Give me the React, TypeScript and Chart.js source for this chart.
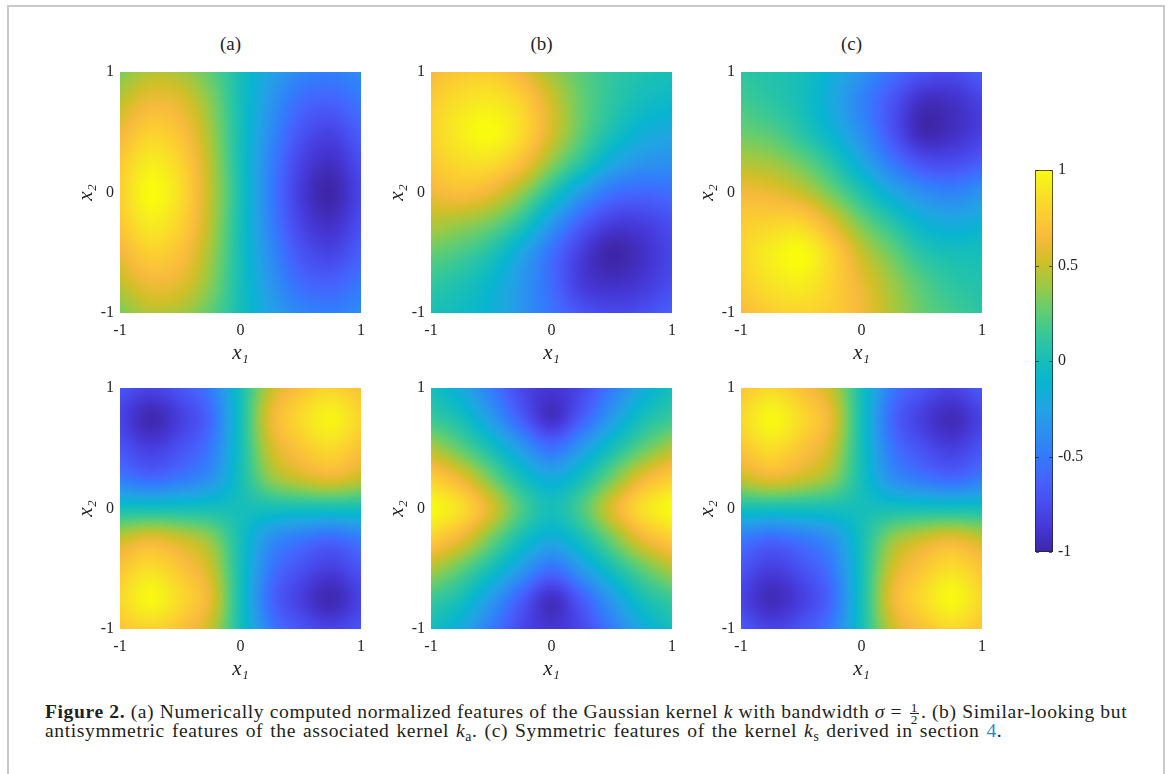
import React, { useEffect, useRef } from 'react';
import { Chart, registerables } from 'chart.js';

Chart.register(...registerables);

// ---------------- data ----------------
// grid nodes: columns x1 = -1 .. 1, rows x2 = 1 .. -1 (top to bottom)
const X1_NODES = [-1, -0.75, -0.5, -0.25, 0, 0.25, 0.5, 0.75, 1];
const X2_NODES = [1, 0.75, 0.5, 0.25, 0, -0.25, -0.5, -0.75, -1];
const AXIS_TICKS = [-1, 0, 1];
const COLORBAR_TICKS = [-1, -0.5, 0, 0.5, 1];
const COLUMN_TITLES = ['(a)', '(b)', '(c)'];

const GAUSS_TOP = [
  [0.32, 0.45, 0.42, 0.25, 0.0, -0.25, -0.42, -0.47, -0.40],
  [0.48, 0.62, 0.58, 0.35, 0.0, -0.33, -0.58, -0.63, -0.52],
  [0.62, 0.78, 0.70, 0.41, 0.0, -0.40, -0.70, -0.80, -0.64],
  [0.74, 0.92, 0.80, 0.46, 0.0, -0.46, -0.80, -0.92, -0.74],
  [0.78, 1.00, 0.85, 0.48, 0.02, -0.48, -0.85, -1.00, -0.78],
  [0.74, 0.92, 0.80, 0.46, 0.0, -0.46, -0.80, -0.92, -0.74],
  [0.62, 0.78, 0.70, 0.41, 0.0, -0.40, -0.70, -0.80, -0.64],
  [0.48, 0.62, 0.58, 0.35, 0.0, -0.33, -0.58, -0.63, -0.52],
  [0.32, 0.45, 0.42, 0.25, 0.0, -0.25, -0.42, -0.47, -0.40],
];

const ANTI_TOP = [
  [0.65, 0.74, 0.75, 0.62, 0.40, 0.24, 0.12, 0.05, 0.0],
  [0.76, 0.87, 0.91, 0.79, 0.53, 0.27, 0.10, -0.02, -0.08],
  [0.79, 0.93, 1.00, 0.84, 0.54, 0.25, 0.02, -0.15, -0.22],
  [0.74, 0.84, 0.85, 0.68, 0.37, 0.08, -0.20, -0.34, -0.37],
  [0.62, 0.68, 0.60, 0.38, 0.05, -0.30, -0.54, -0.60, -0.56],
  [0.46, 0.40, 0.30, 0.08, -0.30, -0.64, -0.83, -0.83, -0.73],
  [0.27, 0.19, 0.05, -0.22, -0.55, -0.84, -1.00, -0.92, -0.78],
  [0.12, 0.04, -0.10, -0.32, -0.58, -0.85, -0.92, -0.87, -0.75],
  [0.02, -0.05, -0.15, -0.34, -0.53, -0.70, -0.77, -0.74, -0.64],
];

const SYM_TOP = [
  [0.10, 0.05, 0.0, -0.15, -0.35, -0.55, -0.70, -0.75, -0.65],
  [0.18, 0.10, 0.0, -0.20, -0.45, -0.70, -0.93, -0.92, -0.80],
  [0.28, 0.22, 0.08, -0.12, -0.38, -0.70, -0.97, -0.93, -0.82],
  [0.45, 0.40, 0.28, 0.08, -0.20, -0.50, -0.72, -0.75, -0.65],
  [0.64, 0.60, 0.50, 0.30, 0.05, -0.20, -0.38, -0.45, -0.35],
  [0.76, 0.80, 0.80, 0.58, 0.30, 0.08, -0.12, -0.20, -0.15],
  [0.80, 0.93, 1.00, 0.80, 0.50, 0.28, 0.08, 0.0, 0.0],
  [0.76, 0.88, 0.93, 0.80, 0.60, 0.40, 0.22, 0.10, 0.05],
  [0.65, 0.76, 0.80, 0.76, 0.64, 0.45, 0.28, 0.18, 0.10],
];

const GAUSS_BOTTOM = [
  [-0.70, -0.80, -0.70, -0.49, 0.0, 0.49, 0.70, 0.80, 0.70],
  [-0.80, -0.97, -0.83, -0.59, 0.0, 0.59, 0.83, 0.96, 0.80],
  [-0.70, -0.83, -0.72, -0.51, 0.0, 0.51, 0.72, 0.83, 0.70],
  [-0.49, -0.59, -0.51, -0.36, 0.0, 0.36, 0.51, 0.59, 0.49],
  [0.0, 0.0, 0.0, 0.0, 0.0, 0.0, 0.0, 0.0, 0.0],
  [0.49, 0.59, 0.51, 0.36, 0.0, -0.36, -0.51, -0.59, -0.49],
  [0.72, 0.85, 0.72, 0.51, 0.0, -0.51, -0.72, -0.83, -0.70],
  [0.82, 0.98, 0.83, 0.59, 0.0, -0.59, -0.83, -0.97, -0.80],
  [0.72, 0.80, 0.70, 0.49, 0.0, -0.49, -0.70, -0.80, -0.70],
];

const ANTI_BOTTOM = [
  [0.0, -0.20, -0.50, -0.78, -0.88, -0.78, -0.50, -0.20, 0.0],
  [0.15, 0.0, -0.30, -0.65, -0.92, -0.65, -0.30, 0.0, 0.15],
  [0.45, 0.25, 0.0, -0.30, -0.55, -0.30, 0.0, 0.25, 0.45],
  [0.78, 0.60, 0.30, 0.0, -0.18, 0.0, 0.30, 0.60, 0.78],
  [1.00, 0.85, 0.55, 0.20, 0.0, 0.20, 0.55, 0.85, 1.00],
  [0.78, 0.60, 0.30, 0.0, -0.18, 0.0, 0.30, 0.60, 0.78],
  [0.45, 0.25, 0.0, -0.30, -0.55, -0.30, 0.0, 0.25, 0.45],
  [0.15, 0.0, -0.30, -0.65, -0.92, -0.65, -0.30, 0.0, 0.15],
  [0.0, -0.20, -0.50, -0.78, -0.88, -0.78, -0.50, -0.20, 0.0],
];

const SYM_BOTTOM = [
  [0.72, 0.82, 0.70, 0.49, 0.0, -0.49, -0.70, -0.80, -0.67],
  [0.82, 0.98, 0.83, 0.59, 0.0, -0.59, -0.83, -0.95, -0.80],
  [0.72, 0.85, 0.72, 0.51, 0.0, -0.51, -0.72, -0.83, -0.70],
  [0.49, 0.59, 0.51, 0.36, 0.0, -0.36, -0.51, -0.59, -0.49],
  [0.0, 0.0, 0.0, 0.0, 0.0, 0.0, 0.0, 0.0, 0.0],
  [-0.49, -0.59, -0.51, -0.36, 0.0, 0.36, 0.51, 0.59, 0.49],
  [-0.70, -0.83, -0.72, -0.51, 0.0, 0.51, 0.72, 0.85, 0.72],
  [-0.80, -0.95, -0.83, -0.59, 0.0, 0.59, 0.83, 0.98, 0.82],
  [-0.67, -0.80, -0.70, -0.49, 0.0, 0.49, 0.70, 0.82, 0.72],
];

// ---------------- styles ----------------
const SERIF = '"Liberation Serif", "Times New Roman", "DejaVu Serif", serif';
const AXIS_COLOR = '#262626';

// parula colormap stops (MATLAB), every 4th of the 64-entry table
const PARULA_STOPS: [number, number, number, number][] = [
  [0, 62, 38, 168], [4, 69, 55, 213], [8, 72, 77, 240], [12, 69, 99, 253],
  [16, 50, 124, 252], [20, 43, 145, 239], [24, 32, 165, 227], [28, 8, 181, 208],
  [32, 25, 191, 182], [36, 55, 200, 151], [40, 100, 205, 111], [44, 157, 201, 67],
  [48, 209, 191, 39], [52, 248, 186, 61], [56, 252, 207, 48], [60, 247, 232, 34],
  [63, 249, 251, 14],
];

function parulaRGB(v: number): [number, number, number] {
  const t = Math.max(0, Math.min(1, (v + 1) / 2)) * 63;
  for (let i = 0; i < PARULA_STOPS.length - 1; i++) {
    const a = PARULA_STOPS[i];
    const b = PARULA_STOPS[i + 1];
    if (t <= b[0]) {
      const f = (t - a[0]) / (b[0] - a[0]);
      return [
        Math.round(a[1] + (b[1] - a[1]) * f),
        Math.round(a[2] + (b[2] - a[2]) * f),
        Math.round(a[3] + (b[3] - a[3]) * f),
      ];
    }
  }
  const l = PARULA_STOPS[PARULA_STOPS.length - 1];
  return [l[1], l[2], l[3]];
}

function cubic(p0: number, p1: number, p2: number, p3: number, t: number) {
  return p1 + 0.5 * t * (p2 - p0 + t * (2 * p0 - 5 * p1 + 4 * p2 - p3 + t * (3 * (p1 - p2) + p3 - p0)));
}

function cellAt(grid: number[][], r: number, c: number): number {
  const ny = grid.length;
  const nx = grid[0].length;
  if (r < 0) return 2 * cellAt(grid, 0, c) - cellAt(grid, 1, c);
  if (r >= ny) return 2 * cellAt(grid, ny - 1, c) - cellAt(grid, ny - 2, c);
  if (c < 0) return 2 * grid[r][0] - grid[r][1];
  if (c >= nx) return 2 * grid[r][nx - 1] - grid[r][nx - 2];
  return grid[r][c];
}

// smooth (shading-interp style) rendering of the gridded field
function sampleField(grid: number[][], fx: number, fy: number) {
  const ny = grid.length;
  const nx = grid[0].length;
  fx = Math.max(0, Math.min(nx - 1, fx));
  fy = Math.max(0, Math.min(ny - 1, fy));
  const ix = Math.min(Math.floor(fx), nx - 2);
  const iy = Math.min(Math.floor(fy), ny - 2);
  const tx = fx - ix;
  const ty = fy - iy;
  const rows: number[] = [];
  for (let k = -1; k <= 2; k++) {
    const r = iy + k;
    rows.push(cubic(cellAt(grid, r, ix - 1), cellAt(grid, r, ix), cellAt(grid, r, ix + 1), cellAt(grid, r, ix + 2), tx));
  }
  return Math.max(-1, Math.min(1, cubic(rows[0], rows[1], rows[2], rows[3], ty)));
}

const heatmapPlugin = {
  id: 'heatmapField',
  beforeDatasetsDraw(chart: any) {
    const pts = chart.data.datasets[0].data as { x: number; y: number; v: number }[];
    const xs = Array.from(new Set(pts.map((p) => p.x))).sort((a, b) => a - b);
    const ys = Array.from(new Set(pts.map((p) => p.y))).sort((a, b) => a - b);
    const grid = ys.map(() => xs.map(() => 0));
    pts.forEach((p) => {
      grid[ys.indexOf(p.y)][xs.indexOf(p.x)] = p.v;
    });
    const { left, top, right, bottom } = chart.chartArea;
    const w = Math.round(right - left);
    const h = Math.round(bottom - top);
    const off = document.createElement('canvas');
    off.width = w;
    off.height = h;
    const octx = off.getContext('2d')!;
    const img = octx.createImageData(w, h);
    const xScale = chart.scales.x;
    const yScale = chart.scales.y;
    const x0 = xs[0], xN = xs[xs.length - 1], y0 = ys[0], yN = ys[ys.length - 1];
    for (let py = 0; py < h; py++) {
      const yv = yScale.getValueForPixel(top + py + 0.5);
      const fy = ((yv - y0) / (yN - y0)) * (ys.length - 1);
      for (let px = 0; px < w; px++) {
        const xv = xScale.getValueForPixel(left + px + 0.5);
        const fx = ((xv - x0) / (xN - x0)) * (xs.length - 1);
        const [r, g, b] = parulaRGB(sampleField(grid, fx, fy));
        const i = (py * w + px) * 4;
        img.data[i] = r;
        img.data[i + 1] = g;
        img.data[i + 2] = b;
        img.data[i + 3] = 255;
      }
    }
    octx.putImageData(img, 0, 0);
    chart.ctx.drawImage(off, left, top);
  },
};

const colorbarPlugin = {
  id: 'colorbarFill',
  beforeDatasetsDraw(chart: any) {
    const { left, top, right, bottom } = chart.chartArea;
    const ctx = chart.ctx;
    const yScale = chart.scales.y;
    for (let py = Math.floor(top); py < Math.ceil(bottom); py++) {
      const [r, g, b] = parulaRGB(yScale.getValueForPixel(py + 0.5));
      ctx.fillStyle = `rgb(${r},${g},${b})`;
      ctx.fillRect(left, py, right - left, 1);
    }
  },
  afterDraw(chart: any) {
    const { left, top, right, bottom } = chart.chartArea;
    const ctx = chart.ctx;
    const yScale = chart.scales.y;
    ctx.save();
    ctx.strokeStyle = 'rgba(38,38,38,0.75)';
    ctx.lineWidth = 1;
    ctx.strokeRect(left + 0.5, top + 0.5, right - left - 1, bottom - top - 1);
    COLORBAR_TICKS.forEach((t) => {
      const y = Math.round(yScale.getPixelForValue(t)) + 0.5;
      ctx.beginPath();
      ctx.moveTo(right - 1, y);
      ctx.lineTo(right - 4, y);
      ctx.moveTo(left + 1, y);
      ctx.lineTo(left + 4, y);
      ctx.stroke();
    });
    ctx.restore();
  },
};

// ---------------- layout ----------------
const PLOT_SIZE = 241;
const PANEL_LEFTS = [120, 431, 741];
const PANEL_TOPS = [72, 388];
const Y_AXIS_W = 60;
const X_AXIS_H = 55;
const PAD_TOP = 12;
const PAD_RIGHT = 20;
const CANVAS_W = Y_AXIS_W + PLOT_SIZE + PAD_RIGHT;
const CANVAS_H = PAD_TOP + PLOT_SIZE + X_AXIS_H;

const CB_LEFT = 1035;
const CB_TOP = 170;
const CB_W = 18;
const CB_H = 382;
const CB_AXIS_W = 50;

const PANELS = [
  { values: GAUSS_TOP, col: 0, row: 0 },
  { values: ANTI_TOP, col: 1, row: 0 },
  { values: SYM_TOP, col: 2, row: 0 },
  { values: GAUSS_BOTTOM, col: 0, row: 1 },
  { values: ANTI_BOTTOM, col: 1, row: 1 },
  { values: SYM_BOTTOM, col: 2, row: 1 },
];

function makePanel(canvas: HTMLCanvasElement, values: number[][]) {
  const points: { x: number; y: number; v: number }[] = [];
  X2_NODES.forEach((x2, r) => {
    X1_NODES.forEach((x1, c) => points.push({ x: x1, y: x2, v: values[r][c] }));
  });
  const tickFont = { family: SERIF, size: 16 };
  const titleFont = { family: SERIF, size: 21, style: 'italic' as const };
  return new Chart(canvas, {
    type: 'scatter',
    data: { datasets: [{ data: points as any, pointRadius: 0, pointHoverRadius: 0, showLine: false }] },
    options: {
      animation: false,
      responsive: false,
      maintainAspectRatio: false,
      events: [],
      layout: { padding: { top: PAD_TOP, right: PAD_RIGHT, left: 0, bottom: 0 } },
      plugins: { legend: { display: false }, tooltip: { enabled: false }, title: { display: false } },
      scales: {
        x: {
          type: 'linear',
          min: -1,
          max: 1,
          position: 'bottom',
          afterBuildTicks: (s: any) => {
            s.ticks = AXIS_TICKS.map((value) => ({ value }));
          },
          afterFit: (s: any) => {
            s.height = X_AXIS_H;
            s.paddingLeft = 0;
            s.paddingRight = 0;
          },
          grid: { display: false, drawTicks: false },
          border: { display: false },
          ticks: { padding: 8, font: tickFont, color: AXIS_COLOR, maxRotation: 0, autoSkip: false, callback: (v: any) => String(v) },
          title: { display: true, text: 'x₁', font: titleFont, color: AXIS_COLOR, padding: { top: 0, bottom: 2 } },
        },
        y: {
          type: 'linear',
          min: -1,
          max: 1,
          position: 'left',
          afterBuildTicks: (s: any) => {
            s.ticks = AXIS_TICKS.map((value) => ({ value }));
          },
          afterFit: (s: any) => {
            s.width = Y_AXIS_W;
            s.paddingTop = 0;
            s.paddingBottom = 0;
          },
          grid: { display: false, drawTicks: false },
          border: { display: false },
          ticks: { padding: 6, font: tickFont, color: AXIS_COLOR, autoSkip: false, callback: (v: any) => String(v) },
          title: { display: true, text: 'x₂', font: titleFont, color: AXIS_COLOR, padding: { top: 14, bottom: 0 } },
        },
      },
    } as any,
    plugins: [heatmapPlugin],
  });
}

function makeColorbar(canvas: HTMLCanvasElement) {
  return new Chart(canvas, {
    type: 'scatter',
    data: { datasets: [{ data: COLORBAR_TICKS.map((t) => ({ x: 0, y: t })), pointRadius: 0, pointHoverRadius: 0 }] },
    options: {
      animation: false,
      responsive: false,
      maintainAspectRatio: false,
      events: [],
      layout: { padding: { top: 10, bottom: 12, left: 0, right: 0 } },
      plugins: { legend: { display: false }, tooltip: { enabled: false } },
      scales: {
        x: { type: 'linear', display: false, min: 0, max: 1 },
        y: {
          type: 'linear',
          position: 'right',
          min: -1,
          max: 1,
          afterBuildTicks: (s: any) => {
            s.ticks = COLORBAR_TICKS.map((value) => ({ value }));
          },
          afterFit: (s: any) => {
            s.width = CB_AXIS_W;
            s.paddingTop = 0;
            s.paddingBottom = 0;
          },
          grid: { display: false, drawTicks: false },
          border: { display: false },
          ticks: { padding: 5, font: { family: SERIF, size: 16 }, color: AXIS_COLOR, autoSkip: false, callback: (v: any) => String(v) },
        },
      },
    } as any,
    plugins: [colorbarPlugin],
  });
}

function Frac() {
  return (
    <span
      style={{
        display: 'inline-flex',
        flexDirection: 'column',
        alignItems: 'center',
        verticalAlign: '6px',
        fontSize: '0.68em',
        lineHeight: '11px',
        margin: '0 2px',
      }}
    >
      <span style={{ borderBottom: '1px solid #231f20', padding: '0 1px' }}>1</span>
      <span>2</span>
    </span>
  );
}

const subStyle: React.CSSProperties = { fontSize: '0.7em', verticalAlign: '-0.28em', lineHeight: 0 };
const lineStyle: React.CSSProperties = { height: 19, lineHeight: '19px' };

export default function App() {
  const panelRefs = useRef<(HTMLCanvasElement | null)[]>([]);
  const barRef = useRef<HTMLCanvasElement | null>(null);

  useEffect(() => {
    const charts: Chart[] = [];
    PANELS.forEach((p, i) => {
      const c = panelRefs.current[i];
      if (c) charts.push(makePanel(c, p.values));
    });
    if (barRef.current) charts.push(makeColorbar(barRef.current));
    return () => charts.forEach((c) => c.destroy());
  }, []);

  return (
    <div style={{ position: 'absolute', left: 0, top: 0, width: 1170, height: 774, overflow: 'hidden', background: '#fff' }}>
      <div
        style={{
          position: 'absolute',
          left: 7,
          top: 5,
          width: 1158,
          height: 820,
          boxSizing: 'border-box',
          border: '2px solid #c9c9c9',
        }}
      />
      {COLUMN_TITLES.map((t, i) => (
        <div
          key={t}
          style={{
            position: 'absolute',
            left: PANEL_LEFTS[i] + PLOT_SIZE / 2 - 10 - 40,
            top: 33,
            width: 80,
            textAlign: 'center',
            fontFamily: SERIF,
            fontSize: 19,
            lineHeight: '22px',
            color: AXIS_COLOR,
          }}
        >
          {t}
        </div>
      ))}
      {PANELS.map((p, i) => (
        <canvas
          key={i}
          ref={(el) => {
            panelRefs.current[i] = el;
          }}
          width={CANVAS_W}
          height={CANVAS_H}
          style={{
            position: 'absolute',
            left: PANEL_LEFTS[p.col] - Y_AXIS_W,
            top: PANEL_TOPS[p.row] - PAD_TOP,
            width: CANVAS_W,
            height: CANVAS_H,
          }}
        />
      ))}
      <canvas
        ref={barRef}
        width={CB_W + CB_AXIS_W}
        height={CB_H + 22}
        style={{ position: 'absolute', left: CB_LEFT, top: CB_TOP - 10, width: CB_W + CB_AXIS_W, height: CB_H + 22 }}
      />
      <div
        style={{
          position: 'absolute',
          left: 45,
          top: 702,
          whiteSpace: 'nowrap',
          fontFamily: SERIF,
          fontSize: 19.6,
          letterSpacing: '0.6px',
          color: '#231f20',
        }}
      >
        <div style={lineStyle}>
          <b>Figure 2.</b> (a) Numerically computed normalized features of the Gaussian kernel <i>k</i> with bandwidth{' '}
          <i>σ</i> = <Frac />. (b) Similar-looking but
        </div>
        <div style={{ ...lineStyle, wordSpacing: '1.5px' }}>
          antisymmetric features of the associated kernel <i>k</i>
          <sub style={subStyle}>a</sub>. (c) Symmetric features of the kernel <i>k</i>
          <sub style={subStyle}>s</sub> derived in section <span style={{ color: '#2b8cc4' }}>4</span>.
        </div>
      </div>
    </div>
  );
}
